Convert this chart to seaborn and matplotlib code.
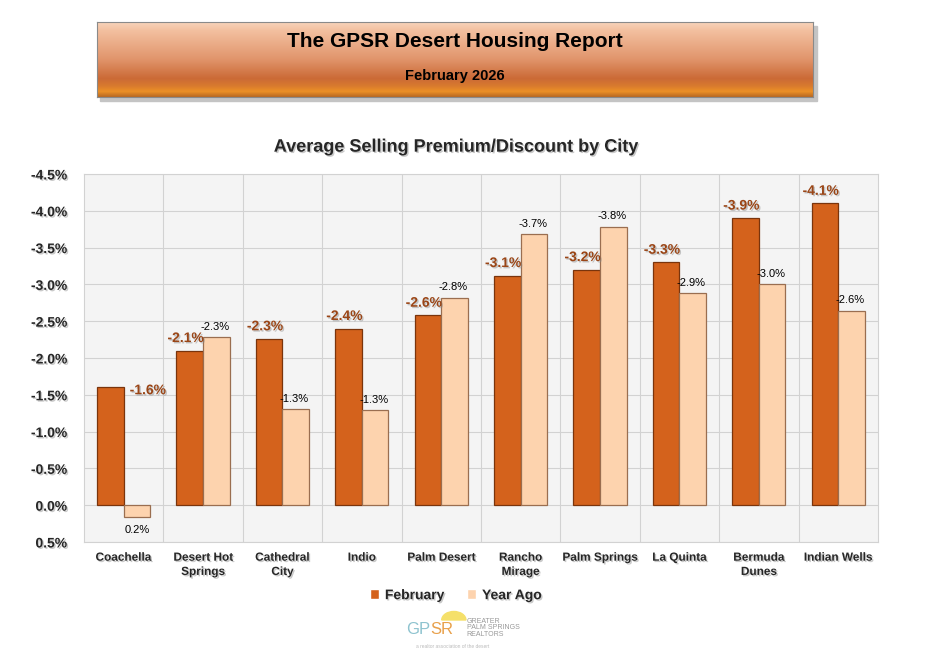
import numpy as np
import pandas as pd
import matplotlib
matplotlib.use("Agg")
import matplotlib.pyplot as plt
import matplotlib.patheffects as pe
from matplotlib.colors import LinearSegmentedColormap
from matplotlib.patches import Rectangle, Wedge
import seaborn as sns

# data
cities = ["Coachella", "Desert Hot\nSprings", "Cathedral\nCity", "Indio", "Palm Desert",
          "Rancho\nMirage", "Palm Springs", "La Quinta", "Bermuda\nDunes", "Indian Wells"]
february = [-1.6, -2.1, -2.26, -2.4, -2.58, -3.12, -3.2, -3.3, -3.9, -4.1]
year_ago = [0.16, -2.28, -1.3, -1.29, -2.82, -3.68, -3.78, -2.88, -3.0, -2.64]
series_names = ["February", "Year Ago"]
y_ticks = [-4.5, -4.0, -3.5, -3.0, -2.5, -2.0, -1.5, -1.0, -0.5, 0.0, 0.5]

feb_color = "#D4621C"
ya_color = "#FDD3AE"

df = pd.DataFrame({
    "City": cities * 2,
    "Series": [series_names[0]] * len(cities) + [series_names[1]] * len(cities),
    "Value": february + year_ago,
})

sns.set_style("white")
plt.rcParams["font.family"] = ["Liberation Sans", "DejaVu Sans"]

shadow = [pe.SimplePatchShadow(offset=(1, -1), shadow_rgbFace="#888888", alpha=0.45), pe.Normal()]

fig = plt.figure(figsize=(9.3, 6.54), dpi=100)
ax = fig.add_axes([0.0903, 0.1713, 0.8537, 0.5627])

sns.barplot(data=df, x="City", y="Value", hue="Series", palette=[feb_color, ya_color],
            width=0.67, saturation=1, ax=ax, zorder=3)

edge_cols = ["#7A340C", "#9A6E50"]
for cont, ec in zip(ax.containers, edge_cols):
    for bar in cont:
        bar.set_edgecolor(ec)
        bar.set_linewidth(0.9)

# axis styling
ax.set_facecolor("#F4F4F4")
ax.set_ylim(0.5, -4.5)
ax.set_xlim(-0.5, len(cities) - 0.5)
ax.set_yticks(y_ticks)
ax.set_yticklabels([f"{v:.1f}%" for v in y_ticks], fontsize=10, fontweight="bold")
ax.set_xticks(range(len(cities)))
ax.set_xticklabels(cities, fontsize=8.5, fontweight="bold", linespacing=1.25)
for lab in ax.get_xticklabels() + ax.get_yticklabels():
    lab.set_path_effects(shadow)
ax.tick_params(axis="both", length=0)
ax.tick_params(axis="y", pad=12)
ax.tick_params(axis="x", pad=7)
ax.set_xlabel("")
ax.set_ylabel("")
for y in y_ticks:
    ax.axhline(y, color="#D2D2D2", lw=0.8, zorder=1)
for x in np.arange(0.5, len(cities) - 0.5, 1):
    ax.axvline(x, color="#D2D2D2", lw=0.8, zorder=1)
for s in ax.spines.values():
    s.set_color("#D2D2D2")
    s.set_linewidth(0.8)

# data labels
feb_bars, ya_bars = ax.containers[0], ax.containers[1]
for i, bar in enumerate(feb_bars):
    xc = bar.get_x() + bar.get_width() / 2
    v = february[i]
    if i == 0:
        # Coachella label sits to the right of the bar
        ax.annotate(f"{v:.1f}%", (xc, v), xytext=(27, -2), textcoords="offset points",
                    ha="center", va="center", fontsize=10, fontweight="bold",
                    color="#9A4516", path_effects=shadow, zorder=5)
    else:
        ax.annotate(f"{v:.1f}%", (xc, v), xytext=(-3, 4), textcoords="offset points",
                    ha="center", va="bottom", fontsize=10, fontweight="bold",
                    color="#9A4516", path_effects=shadow, zorder=5)
for i, bar in enumerate(ya_bars):
    xc = bar.get_x() + bar.get_width() / 2
    v = year_ago[i]
    if v > 0:
        ax.annotate(f"{v:.1f}%", (xc, v), xytext=(0, -6), textcoords="offset points",
                    ha="center", va="top", fontsize=8, color="black", zorder=5)
    else:
        ax.annotate(f"{v:.1f}%", (xc, v), xytext=(-1, 4), textcoords="offset points",
                    ha="center", va="bottom", fontsize=8, color="black", zorder=5)

# legend
handles, labels = ax.get_legend_handles_labels()
if ax.get_legend() is not None:
    ax.get_legend().remove()
leg = fig.legend(handles, labels, loc="center", bbox_to_anchor=(0.49, 0.09),
                 bbox_transform=fig.transFigure, ncol=2, frameon=False,
                 handlelength=0.7, handleheight=0.7, handletextpad=0.4, columnspacing=1.6,
                 prop={"weight": "bold", "size": 10})
for t in leg.get_texts():
    t.set_path_effects(shadow)

# chart title
fig.text(0.49, 0.775, "Average Selling Premium/Discount by City", ha="center", va="center",
         fontsize=13, fontweight="bold", path_effects=shadow)

# header box with gradient
box = [0.104, 0.851, 0.77, 0.115]
fig.patches.append(Rectangle((box[0] + 0.004, box[1] - 0.006), box[2], box[3],
                             transform=fig.transFigure, color="#C4C4C4", zorder=-1))
hax = fig.add_axes(box)
hax.set_zorder(1)
cmap = LinearSegmentedColormap.from_list("hdr", [
    (0.0, "#F8D6BE"), (0.12, "#F3C0A0"), (0.5, "#E1956C"), (0.76, "#CB6A36"),
    (0.86, "#D97B2E"), (0.93, "#EC9026"), (1.0, "#B96A22")])
grad = np.linspace(0, 1, 200).reshape(-1, 1)
hax.imshow(grad, aspect="auto", cmap=cmap, extent=[0, 1, 0, 1], origin="upper")
hax.set_xticks([])
hax.set_yticks([])
for s in hax.spines.values():
    s.set_color("#8A8A8A")
    s.set_linewidth(0.8)
hax.text(0.5, 0.74, "The GPSR Desert Housing Report", ha="center", va="center",
         transform=hax.transAxes, fontsize=15, fontweight="bold", color="black")
hax.text(0.5, 0.29, "February 2026", ha="center", va="center",
         transform=hax.transAxes, fontsize=10.5, fontweight="bold", color="black")

# small logo at the bottom
fig.patches.append(Wedge((0.488, 0.052), 0.013, 0, 180, transform=fig.transFigure,
                         color="#F5E06A", zorder=1))
gp = fig.text(0.437, 0.038, "GP", ha="left", va="center", fontsize=12, color="#8EC3CF")
fig.add_artist(plt.Annotation("SR", xy=(1.0, 0.5), xycoords=gp, ha="left", va="center",
                              fontsize=12, color="#E8A04A"))
fig.text(0.502, 0.040, "GREATER\nPALM SPRINGS\nREALTORS", ha="left", va="center",
         fontsize=5, color="#999999", linespacing=0.95)
fig.text(0.487, 0.012, "a realtor association of the desert", ha="center", va="center",
         fontsize=3.5, color="#BBBBBB")

fig.savefig("out.png", dpi=100)
